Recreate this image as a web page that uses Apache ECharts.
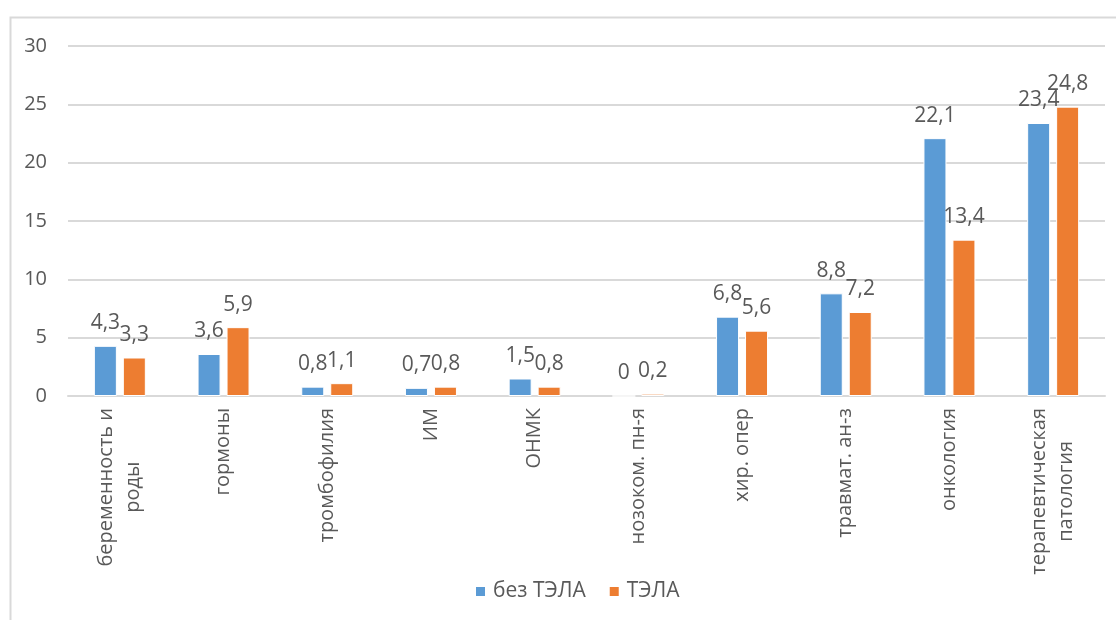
<!DOCTYPE html>
<html>
<head>
<meta charset="utf-8">
<script src="https://cdn.jsdelivr.net/npm/echarts@6/dist/echarts.min.js"></script>
<style>
  html, body { margin: 0; padding: 0; background: #ffffff; }
  #chart { width: 1116px; height: 620px; }
</style>
</head>
<body>
<div id="chart"></div>
<script>
// Факторы риска: доля пациентов (%) в группах без ТЭЛА и с ТЭЛА
const categories = [
  'беременность и\nроды',
  'гормоны',
  'тромбофилия',
  'ИМ',
  'ОНМК',
  'нозоком. пн-я',
  'хир. опер',
  'травмат. ан-з',
  'онкология',
  'терапевтическая\nпатология'
];
const seriesNames = ['без ТЭЛА', 'ТЭЛА'];
const withoutPE = [4.3, 3.6, 0.8, 0.7, 1.5, 0, 6.8, 8.8, 22.1, 23.4];
const withPE = [3.3, 5.9, 1.1, 0.8, 0.8, 0.2, 5.6, 7.2, 13.4, 24.8];
const yTicks = { min: 0, max: 30, step: 5 };

const FONT = '"Open Sans", "Liberation Sans", Arial, sans-serif';
const TEXT = '#595959';
const GRID = '#D9D9D9';

const fmtComma = v => String(v).replace('.', ',');

function barLabel() {
  return {
    show: true,
    position: 'top',
    distance: 12,
    color: TEXT,
    fontFamily: FONT,
    fontSize: 21,
    formatter: p => fmtComma(p.value)
  };
}

const chart = echarts.init(document.getElementById('chart'), null, { renderer: 'canvas' });
chart.setOption({
  animation: false,
  backgroundColor: '#ffffff',
  textStyle: { fontFamily: FONT },
  graphic: [{
    type: 'rect',
    left: 8, top: 15,
    shape: { x: 0, y: 0, width: 1200, height: 700 },
    style: { fill: 'none', stroke: GRID, lineWidth: 2 },
    silent: true,
    z: -10
  }],
  grid: { left: 68, right: 11, top: 46, bottom: 224, containLabel: false },
  legend: {
    data: seriesNames,
    left: 469,
    top: 576,
    icon: 'rect',
    itemWidth: 11,
    itemHeight: 11,
    itemGap: 22,
    textStyle: { color: TEXT, fontFamily: FONT, fontSize: 21, padding: [0, 0, 0, 2] }
  },
  xAxis: {
    type: 'category',
    data: categories,
    axisLine: { show: true, lineStyle: { color: GRID, width: 2 } },
    axisTick: { show: false },
    axisLabel: {
      interval: 0,
      rotate: 90,
      margin: 12,
      color: TEXT,
      fontFamily: FONT,
      fontSize: 20,
      formatter: v => v.split('\n').map(s => '{c|' + s + '}').join('\n'),
      rich: {
        c: { align: 'center', color: TEXT, fontFamily: FONT, fontSize: 20, lineHeight: 27 }
      }
    }
  },
  yAxis: {
    type: 'value',
    min: yTicks.min,
    max: yTicks.max,
    interval: yTicks.step,
    axisLine: { show: false },
    axisTick: { show: false },
    axisLabel: { color: TEXT, fontFamily: FONT, fontSize: 20, margin: 21 },
    splitLine: { lineStyle: { color: GRID, width: 2 } }
  },
  series: [
    {
      name: seriesNames[0],
      type: 'bar',
      data: withoutPE,
      barWidth: 23,
      barGap: '26%',
      itemStyle: { color: '#5B9BD5', borderColor: '#ffffff', borderWidth: 1 },
      label: barLabel()
    },
    {
      name: seriesNames[1],
      type: 'bar',
      data: withPE,
      barWidth: 23,
      itemStyle: { color: '#ED7D31', borderColor: '#ffffff', borderWidth: 1 },
      label: barLabel()
    }
  ]
});
</script>
</body>
</html>
